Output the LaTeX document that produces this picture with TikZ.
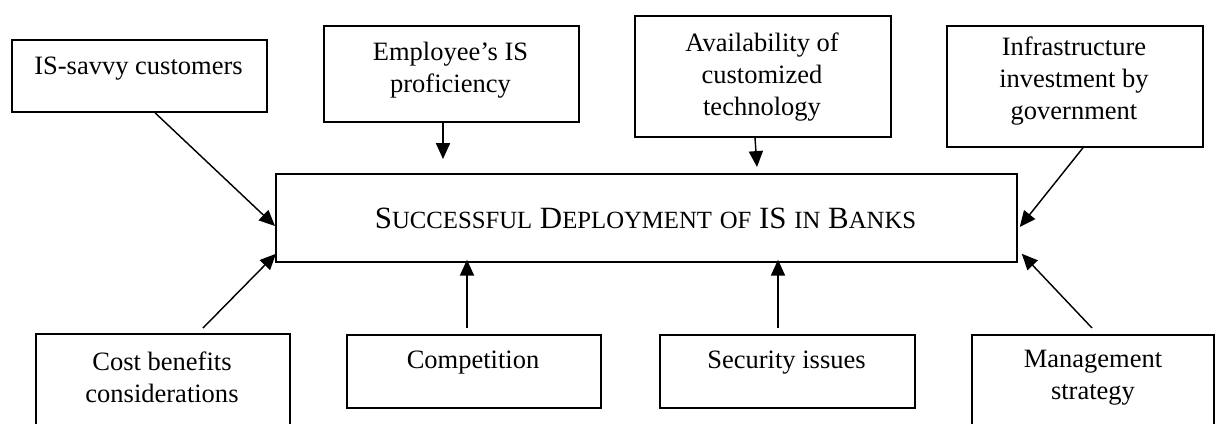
\documentclass[tikz,border=0pt]{standalone}
\usepackage{fontspec}
\setmainfont{Liberation Serif}
\usetikzlibrary{arrows.meta,calc}
% one drawing unit
\newcommand\pxu{0.4528pt}
% small capitals drawn as reduced capitals
\newcommand\smallcap[1]{{\fontsize{11.2}{13}\selectfont #1}}
\begin{document}
\begin{tikzpicture}[x=\pxu,y=-\pxu,
  box/.style={draw, line width=0.8pt, inner sep=0pt, anchor=north west},
  txt/.style={inner sep=0pt, anchor=north, align=center, font=\fontsize{12}{14.5}\selectfont},
  feed/.style={-{Triangle[length=7.2pt,width=6.4pt]}, line width=0.65pt}]
\useasboundingbox (0,0) rectangle (1222,424);

% factor boxes, upper row
\node[box, minimum width=255*\pxu, minimum height=72*\pxu]  (savvy) at (11,39) {};
\node[box, minimum width=255*\pxu, minimum height=96*\pxu]  (emp)   at (323,25) {};
\node[box, minimum width=256*\pxu, minimum height=121*\pxu] (avail) at (634,15) {};
\node[box, minimum width=256*\pxu, minimum height=121*\pxu] (infra) at (946,25) {};

% central outcome box
\node[box, minimum width=741*\pxu, minimum height=88*\pxu] (center) at (275,173) {};

% factor boxes, lower row
\node[box, minimum width=254*\pxu, minimum height=120*\pxu] (cost) at (35,333) {};
\node[box, minimum width=254*\pxu, minimum height=73*\pxu]  (comp) at (346,334) {};
\node[box, minimum width=255*\pxu, minimum height=73*\pxu]  (sec)  at (659,334) {};
\node[box, minimum width=242*\pxu, minimum height=120*\pxu] (mgmt) at (971,334) {};

% box texts
\node[txt] (savvyT) at (138.5,57) {IS-savvy customers};
\node[txt] (empT)   at (450.5,42) {Employee’s IS\\proficiency};
\node[txt] (availT) at (762,32)   {Availability of\\customized\\technology};
\node[txt] (infraT) at (1074,36)  {Infrastructure\\investment by\\government};
\node[txt] (costT)  at (162,351)  {Cost benefits\\considerations};
\node[txt] (compT)  at (473,351)  {Competition};
\node[txt] (secT)   at (786.5,351) {Security issues};
\node[txt] (mgmtT)  at (1093,350) {Management\\strategy};
\node[anchor=base, inner sep=0pt, font=\fontsize{14}{16}\selectfont] (centerT) at (645.5,229)
  {S\smallcap{UCCESSFUL} D\smallcap{EPLOYMENT} \smallcap{OF} IS \smallcap{IN} B\smallcap{ANKS}};

% influences on the central box
\draw[feed] ($(savvy.south west)+(144,0)$) -- ($(center.north west)+(0,53)$);
\draw[feed] ($(emp.south west)+(120,0)$)   -- ($(center.north west)+(168,-14)$);
\draw[feed] ($(avail.south west)+(121,0)$) -- ($(center.north west)+(482,-6)$);
\draw[feed] ($(infra.south west)+(137,0)$) -- ($(center.north east)+(2,54)$);
\draw[feed] ($(cost.north west)+(168,-5)$) -- ($(center.south west)+(1,-9)$);
\draw[feed] ($(comp.north west)+(121,-6)$) -- ($(center.south west)+(192,-3)$);
\draw[feed] ($(sec.north west)+(119,-6)$)  -- ($(center.south west)+(503,-3)$);
\draw[feed] ($(mgmt.north west)+(121,-6)$) -- ($(center.south east)+(4,-9)$);
\end{tikzpicture}
\end{document}
